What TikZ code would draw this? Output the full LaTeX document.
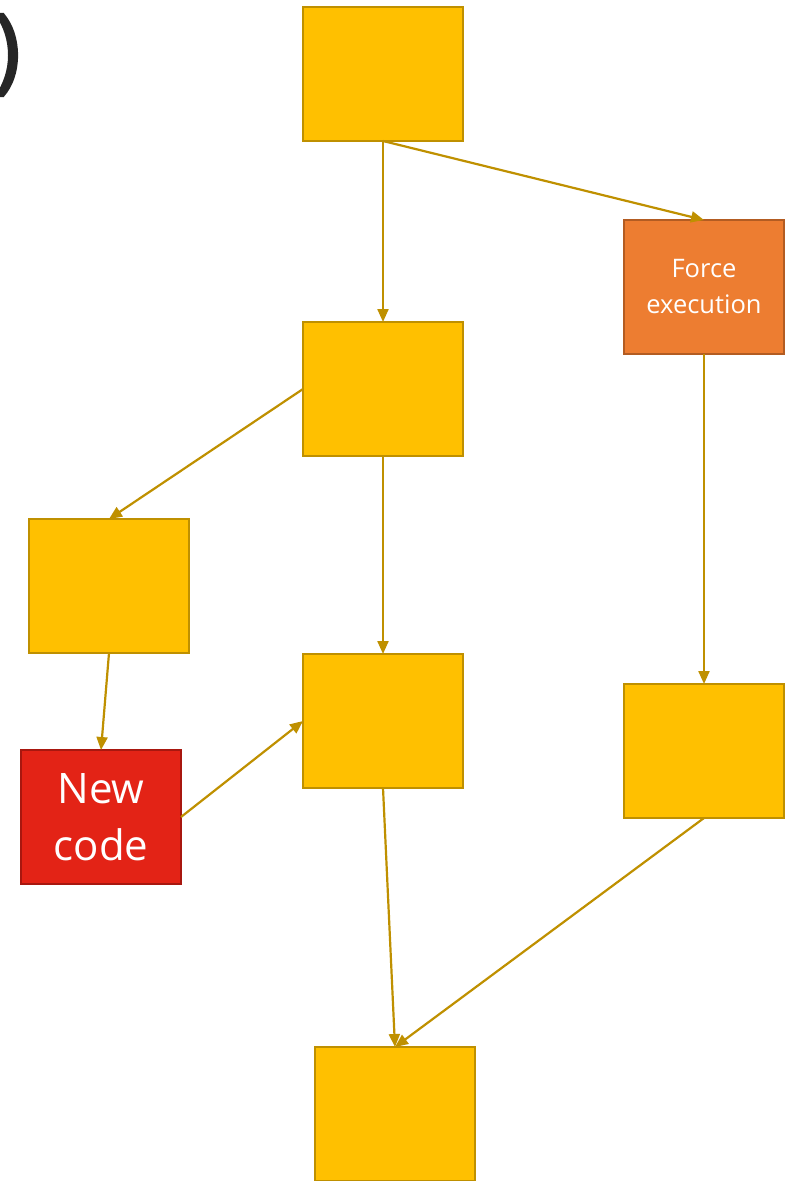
\documentclass[tikz,border=0pt]{standalone}
\usepackage{fontspec}
\setmainfont{Open Sans}
\newfontfamily\headingfont[FakeBold=2.2]{Open Sans}
\usetikzlibrary{arrows.meta}
\definecolor{gold}{HTML}{FFC000}
\definecolor{goldline}{HTML}{BF9000}
\definecolor{orangefill}{HTML}{ED7D31}
\definecolor{orangeline}{HTML}{B35C22}
\definecolor{redfill}{HTML}{E32316}
\definecolor{redline}{HTML}{A8170F}
\definecolor{ink}{HTML}{262626}
\begin{document}
\begin{tikzpicture}[x=1pt,y=-1pt,
  block/.style={draw=goldline, fill=gold, line width=2.2pt, minimum width=160pt,
    minimum height=134pt, inner sep=0pt, outer sep=0pt, anchor=north west},
  forcebox/.style={block, draw=orangeline, fill=orangefill, text=white,
    align=center, font=\fontsize{25.5}{36}\selectfont},
  newbox/.style={block, draw=redline, fill=redfill, text=white,
    align=center, font=\fontsize{42}{57}\selectfont},
  link/.style={draw=goldline, line width=2.2pt, -{Triangle[length=13pt,width=11pt]}}]
\useasboundingbox (0,0) rectangle (795,1181);
\clip (0,0) rectangle (795,1181);

% closing bracket of the heading text
\node[anchor=east, text=ink, inner sep=0pt, font=\fontsize{94}{100}\headingfont] (paren) at (21,55) {)};

% boxes
\node[block] (top) at (303,7) {};
\node[block] (mid) at (303,322) {};
\node[forcebox] (force) at (624,220) {Force\\execution};
\node[block] (left) at (29,519) {};
\node[block] (center) at (303,654) {};
\node[newbox] (newcode) at (21,750) {New\\code};
\node[block] (right) at (624,684) {};
\node[block] (bottom) at (315,1047) {};

% connectors
\draw[link] (top.south) -- (mid.north);
\draw[link] (top.south) -- (force.north);
\draw[link] (mid.west) -- (left.north);
\draw[link] (mid.south) -- (center.north);
\draw[link] (left.south) -- (newcode.north);
\draw[link] (newcode.east) -- (center.west);
\draw[link] (center.south) -- (bottom.north);
\draw[link] (force.south) -- (right.north);
\draw[link] (right.south) -- (bottom.north);
\end{tikzpicture}
\end{document}
